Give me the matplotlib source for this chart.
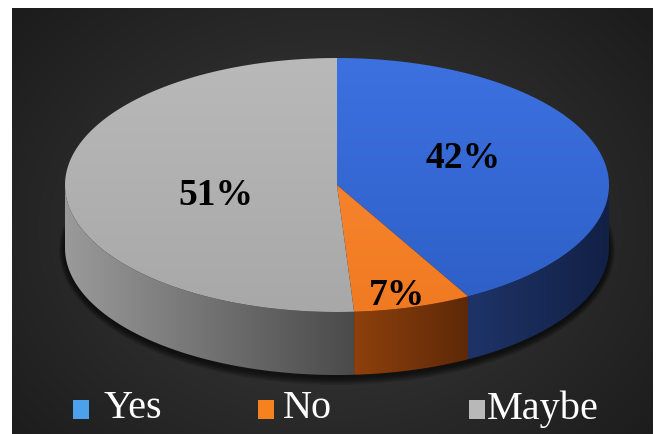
import matplotlib
matplotlib.use("Agg")
import matplotlib.pyplot as plt
import numpy as np
from matplotlib.patches import Polygon, Rectangle, Ellipse
from matplotlib.colors import LinearSegmentedColormap, to_rgb

# data
categories = ["Yes", "No", "Maybe"]
shares = [42, 7, 51]
pct_labels = ["42%", "7%", "51%"]

# styling
top_cols = [("#3c71e0", "#2f60c8"), ("#f6832c", "#f07a22"), ("#b9b9b9", "#a8a8a8")]
side_cols = [("#1e3468", "#122045"), ("#8e400d", "#5e2907"), ("#9a9a9a", "#4a4a4a")]
legend_cols = ["#4ba2ea", "#f5821f", "#b8b8b8"]
label_pos = [(463, 159), (397, 296), (216, 196)]
legend_sq_x = [73, 258, 469]
legend_txt_x = [104, 283, 487]

cx, cy, rx, ry, depth = 337, 186, 272, 127, 63

fig = plt.figure(figsize=(6.56, 4.35), dpi=100, facecolor="white")
ax = fig.add_axes([0, 0, 1, 1])
ax.set_xlim(0, 656)
ax.set_ylim(435, 0)
ax.set_autoscale_on(False)
ax.axis("off")

# dark radial background
yy, xx = np.mgrid[9:435:2, 12:653:2]
d = np.sqrt(((xx - 330) / 420.0) ** 2 + ((yy - 230) / 330.0) ** 2)
d = np.clip(d, 0, 1)
c_in, c_out = np.array(to_rgb("#3d3d3d")), np.array(to_rgb("#1c1c1c"))
bg = c_in[None, None, :] * (1 - d[..., None]) + c_out[None, None, :] * d[..., None]
ax.imshow(bg, extent=(12, 653, 435, 9), aspect="auto", zorder=0, interpolation="bilinear")


def ell(th, dy=0.0):
    r = np.radians(th)
    return np.column_stack([cx + rx * np.cos(r), cy - ry * np.sin(r) + dy])


def grad_fill(xy, c0, c1, vertical=False, z=2):
    poly = Polygon(xy, closed=True, facecolor="none", edgecolor="none", zorder=z)
    ax.add_patch(poly)
    x0, x1 = xy[:, 0].min(), xy[:, 0].max()
    y0, y1 = xy[:, 1].min(), xy[:, 1].max()
    cmap = LinearSegmentedColormap.from_list("g", [c0, c1])
    g = np.linspace(0, 1, 256)
    arr = g[:, None] if vertical else g[None, :]
    im = ax.imshow(arr, cmap=cmap, extent=(x0, x1, y1, y0), aspect="auto",
                   zorder=z, interpolation="bilinear")
    im.set_clip_path(poly)


# soft shadow under the pie
for k in range(10, 0, -1):
    ax.add_patch(Ellipse((cx, cy + depth + 2), 2 * (rx + k * 0.6), 2 * (ry + k * 0.8),
                         facecolor="black", edgecolor="none", alpha=0.08, zorder=1))

total = float(sum(shares))
start = 90.0
wedges = []
for i, s in enumerate(shares):
    end = start - s / total * 360.0
    wedges.append((start, end))
    start = end

# front sides
for i, (a0, a1) in enumerate(wedges):
    lo, hi = max(a1, -180.0), min(a0, 0.0)
    if lo < hi:
        th = np.linspace(hi, lo, 120)
        top = ell(th)
        bot = ell(th[::-1], depth)
        grad_fill(np.vstack([top, bot]), side_cols[i][0], side_cols[i][1], z=3)

# top faces
for i, (a0, a1) in enumerate(wedges):
    th = np.linspace(a0, a1, 200)
    xy = np.vstack([[cx, cy], ell(th)])
    grad_fill(xy, top_cols[i][0], top_cols[i][1], vertical=True, z=4)

# percentage labels
for lab, (x, y) in zip(pct_labels, label_pos):
    ax.text(x, y, lab, ha="center", va="center", fontsize=27, fontweight="bold",
            family="Liberation Serif", color="black", zorder=6)

# legend
for name, col, sx, tx in zip(categories, legend_cols, legend_sq_x, legend_txt_x):
    ax.add_patch(Rectangle((sx, 401), 16, 19, facecolor=col, edgecolor="none", zorder=6))
    ax.text(tx, 409, name, ha="left", va="center", fontsize=29, family="Liberation Serif",
            color="white", zorder=6)

fig.savefig("out.png", dpi=100, facecolor="white")
